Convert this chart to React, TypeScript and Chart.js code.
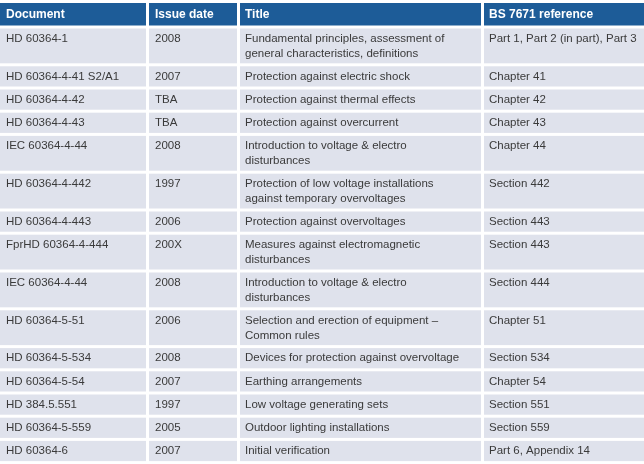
import React, { useEffect, useRef } from "react";
import { Chart, registerables } from "chart.js";

Chart.register(...registerables);

const headers = ["Document", "Issue date", "Title", "BS 7671 reference"];

const documents = [
  "HD 60364-1",
  "HD 60364-4-41 S2/A1",
  "HD 60364-4-42",
  "HD 60364-4-43",
  "IEC 60364-4-44",
  "HD 60364-4-442",
  "HD 60364-4-443",
  "FprHD 60364-4-444",
  "IEC 60364-4-44",
  "HD 60364-5-51",
  "HD 60364-5-534",
  "HD 60364-5-54",
  "HD 384.5.551",
  "HD 60364-5-559",
  "HD 60364-6",
];

const issueDates = [
  "2008", "2007", "TBA", "TBA", "2008", "1997", "2006", "200X",
  "2008", "2006", "2008", "2007", "1997", "2005", "2007",
];

const titles = [
  ["Fundamental principles, assessment of", "general characteristics, definitions"],
  ["Protection against electric shock"],
  ["Protection against thermal effects"],
  ["Protection against overcurrent"],
  ["Introduction to voltage & electro", "disturbances"],
  ["Protection of low voltage installations", "against temporary overvoltages"],
  ["Protection against overvoltages"],
  ["Measures against electromagnetic", "disturbances"],
  ["Introduction to voltage & electro", "disturbances"],
  ["Selection and erection of equipment –", "Common rules"],
  ["Devices for protection against overvoltage"],
  ["Earthing arrangements"],
  ["Low voltage generating sets"],
  ["Outdoor lighting installations"],
  ["Initial verification"],
];

const bsReferences = [
  "Part 1, Part 2 (in part), Part 3",
  "Chapter 41",
  "Chapter 42",
  "Chapter 43",
  "Chapter 44",
  "Section 442",
  "Section 443",
  "Section 443",
  "Section 444",
  "Chapter 51",
  "Section 534",
  "Chapter 54",
  "Section 551",
  "Section 559",
  "Part 6, Appendix 14",
];

// layout (in table units, mapped through the chart's linear scales)
const W = 644;
const H = 464;
const COL_EDGES = [0, 149, 240, 484, 644];
const GAP = 3;
const HEADER_PITCH = 25.5;
const ROW_BASE = 8.6;
const LINE_H = 14.6;
const TEXT_PAD_X = [6, 6, 5, 5];

const HEADER_BG = "#1d5c98";
const CELL_BG = "#dfe2ec";
const TEXT_COLOR = "#3a3a3a";
const FONT = "'Liberation Sans', Arial, Helvetica, sans-serif";

const tablePlugin = {
  id: "tablePlugin",
  afterDraw(chart: any) {
    const ctx = chart.ctx as CanvasRenderingContext2D;
    const xs = chart.scales.x;
    const ys = chart.scales.y;
    const px = (v: number) => xs.getPixelForValue(v);
    const py = (v: number) => ys.getPixelForValue(v);

    ctx.save();
    ctx.fillStyle = "#ffffff";
    ctx.fillRect(px(0), py(0), px(W) - px(0), py(H) - py(0));

    const drawRow = (top: number, pitch: number, cells: string[][], header: boolean) => {
      for (let c = 0; c < 4; c++) {
        const x0 = px(COL_EDGES[c]);
        const x1 = px(COL_EDGES[c + 1] - (c < 3 ? GAP : 0));
        const y0 = py(top + GAP);
        const y1 = py(top + pitch);
        ctx.fillStyle = header ? HEADER_BG : CELL_BG;
        ctx.fillRect(x0, y0, x1 - x0, y1 - y0);
        ctx.fillStyle = header ? "#ffffff" : TEXT_COLOR;
        ctx.font = header ? `bold 12px ${FONT}` : `11.5px ${FONT}`;
        ctx.textBaseline = "middle";
        ctx.textAlign = "left";
        const lines = cells[c];
        lines.forEach((ln, i) => {
          const ty = header ? top + GAP + 11.3 : top + GAP + 10.2 + i * 15;
          ctx.fillText(ln, px(COL_EDGES[c] + TEXT_PAD_X[c]), py(ty));
        });
      }
    };

    drawRow(0, HEADER_PITCH, headers.map((h) => [h]), true);
    let top = HEADER_PITCH;
    for (let r = 0; r < documents.length; r++) {
      const nLines = titles[r].length;
      const pitch = ROW_BASE + LINE_H * nLines;
      drawRow(top, pitch, [[documents[r]], [issueDates[r]], titles[r], [bsReferences[r]]], false);
      top += pitch;
    }
    ctx.restore();
  },
};

export default function App() {
  const ref = useRef<HTMLCanvasElement | null>(null);
  useEffect(() => {
    document.body.style.margin = "0";
    const canvas = ref.current!;
    const chart = new Chart(canvas, {
      type: "scatter",
      data: { datasets: [{ data: [], showLine: false }] },
      options: {
        responsive: false,
        animation: false,
        devicePixelRatio: 1,
        layout: { padding: 0 },
        plugins: { legend: { display: false }, tooltip: { enabled: false } },
        scales: {
          x: { type: "linear", min: 0, max: W, display: false },
          y: { type: "linear", min: 0, max: H, reverse: true, display: false },
        },
      },
      plugins: [tablePlugin],
    });
    return () => chart.destroy();
  }, []);
  return (
    <div style={{ width: W, height: H }}>
      <canvas ref={ref} width={W} height={H} style={{ display: "block" }} />
    </div>
  );
}
